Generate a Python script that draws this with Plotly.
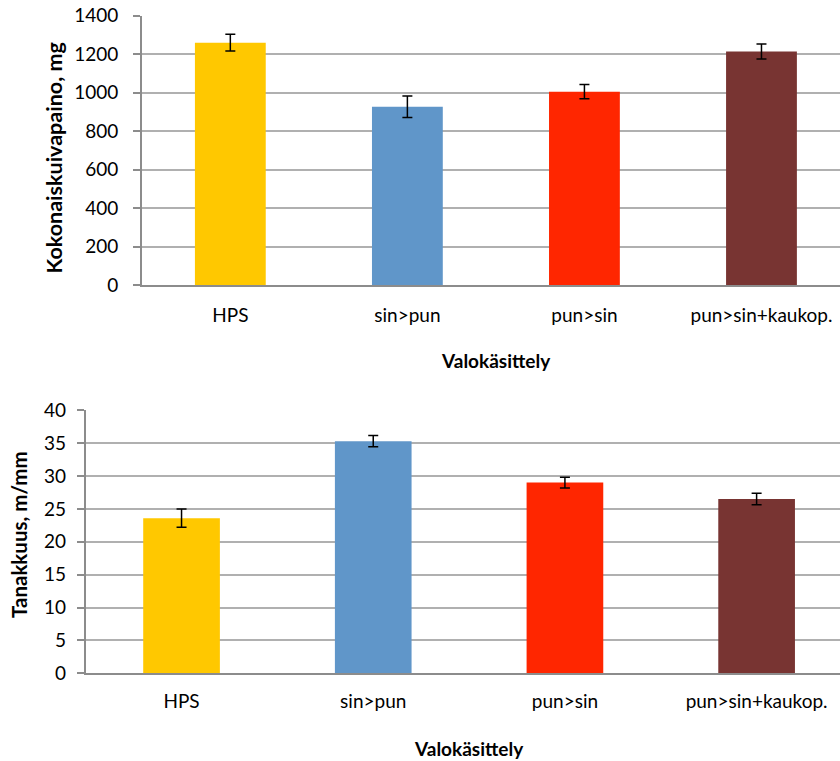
import plotly.graph_objects as go

# Light treatments (categories) shared by both panels
categories = ["HPS", "sin>pun", "pun>sin", "pun>sin+kaukop."]
bar_colors = ["#FFC800", "#6096C9", "#FF2600", "#783432"]

# Panel 1: total dry weight (mg) with error bars
dry_weight = [1260, 927, 1005, 1214]
dry_weight_err = [43, 56, 37, 39]

# Panel 2: compactness (m/mm) with error bars
compactness = [23.6, 35.3, 29.0, 26.5]
compactness_err = [1.4, 0.85, 0.8, 0.87]

W, H = 840, 761
FONT = "Lato"
GRID = "#b0b0b0"
AXIS = "#8c8c8c"

fig = go.Figure()

fig.add_trace(go.Bar(
    x=categories, y=dry_weight,
    marker=dict(color=bar_colors, line=dict(width=0)),
    error_y=dict(type="data", array=dry_weight_err, color="black",
                 thickness=1.5, width=5),
    xaxis="x", yaxis="y", showlegend=False,
))
fig.add_trace(go.Bar(
    x=categories, y=compactness,
    marker=dict(color=bar_colors, line=dict(width=0)),
    error_y=dict(type="data", array=compactness_err, color="black",
                 thickness=1.5, width=5),
    xaxis="x2", yaxis="y2", showlegend=False,
))

tick_font = dict(family=FONT, size=19, color="black")

common_x = dict(showgrid=False, showline=True, linecolor=AXIS, linewidth=1.5,
                ticks="", tickfont=tick_font, zeroline=False, fixedrange=True,
                automargin=False)
common_y = dict(showgrid=True, gridcolor=GRID, gridwidth=1.5, showline=True,
                linecolor=AXIS, linewidth=1.5, ticks="outside", ticklen=7,
                tickwidth=1.5, tickcolor=AXIS, tickfont=tick_font,
                zeroline=False, fixedrange=True, automargin=False)

fig.update_layout(
    width=W, height=H,
    margin=dict(l=0, r=0, t=0, b=0),
    paper_bgcolor="white", plot_bgcolor="white",
    bargap=0.6,
    xaxis=dict(domain=[141.8 / W, 1], range=[-0.5, 3.4435],
               anchor="y", ticklabelstandoff=12, **common_x),
    yaxis=dict(domain=[(H - 285) / H, (H - 15.7) / H], range=[0, 1400],
               dtick=200, anchor="x", ticklabelstandoff=11, **common_y),
    xaxis2=dict(domain=[85.7 / W, 1], range=[-0.5, 3.435],
                anchor="y2", ticklabelstandoff=10, **common_x),
    yaxis2=dict(domain=[(H - 673.3) / H, (H - 410.3) / H], range=[0, 40],
                dtick=5, anchor="x2", ticklabelstandoff=7, **common_y),
)

annotations = [
    dict(text="<b>Valokäsittely</b>", x=496 / W, y=(H - 360) / H),
    dict(text="<b>Valokäsittely</b>", x=469 / W, y=(H - 748) / H),
    dict(text="<b>Kokonaiskuivapaino, mg</b>", x=54 / W, y=(H - 157.5) / H,
         textangle=-90, font=dict(family=FONT, size=21.5, color="black")),
    dict(text="<b>Tanakkuus, m/mm</b>", x=19 / W, y=(H - 535) / H,
         textangle=-90, font=dict(family=FONT, size=20.5, color="black")),
]
for a in annotations:
    a.setdefault("font", dict(family=FONT, size=19, color="black"))
    a.update(xref="paper", yref="paper", xanchor="center", yanchor="middle",
             showarrow=False)
fig.update_layout(annotations=annotations)

fig.write_html("out.html")
